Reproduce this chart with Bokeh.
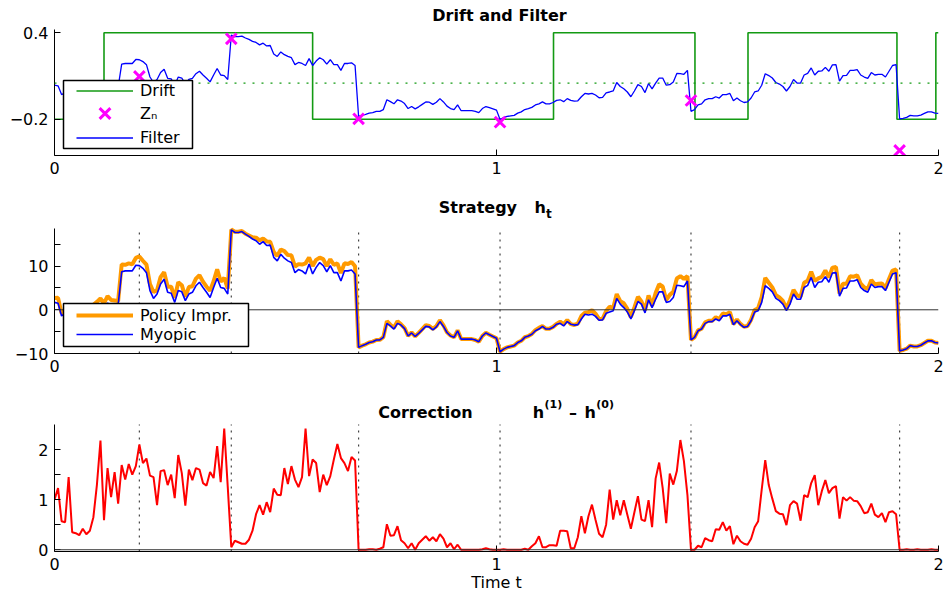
from bokeh.plotting import figure
from bokeh.layouts import column
from bokeh.models import Range1d, FixedTicker, Span, Legend, LegendItem, Label, BoxAnnotation
from bokeh.embed import file_html
from bokeh.resources import INLINE

# ---------------- data ----------------
DT = 0.008  # sampling step of the time grid

filter_est = [
    0.036, 0.032, -0.029, -0.017, -0.013, -0.019, -0.021, -0.013, -0.008, -0.013,
    -0.006, 0.011, 0.011, 0.008, 0.019, 0.032, 0.025, 0.013, 0.023, 0.183,
    0.187, 0.187, 0.187, 0.215, 0.213, 0.2, 0.179, 0.093, 0.055, 0.076,
    0.124, 0.147, 0.084, 0.08, 0.036, 0.093, 0.086, 0.044, 0.076, 0.084,
    0.116, 0.133, 0.107, 0.084, 0.059, 0.107, 0.152, 0.107, 0.103, 0.076,
    0.385, 0.373, 0.373, 0.377, 0.364, 0.354, 0.341, 0.333, 0.316, 0.328,
    0.309, 0.312, 0.253, 0.236, 0.267, 0.248, 0.236, 0.227, 0.179, 0.194,
    0.187, 0.173, 0.221, 0.173, 0.204, 0.227, 0.213, 0.183, 0.213, 0.179,
    0.179, 0.139, 0.187, 0.187, 0.192, 0.173, -0.181, -0.173, -0.166, -0.158,
    -0.154, -0.145, -0.145, -0.133, -0.065, -0.078, -0.093, -0.065, -0.074, -0.091,
    -0.126, -0.112, -0.128, -0.114, -0.097, -0.08, -0.082, -0.097, -0.082, -0.057,
    -0.08, -0.109, -0.126, -0.133, -0.101, -0.141, -0.141, -0.141, -0.141, -0.145,
    -0.154, -0.126, -0.112, -0.12, -0.128, -0.137, -0.202, -0.189, -0.181, -0.177,
    -0.173, -0.158, -0.149, -0.133, -0.126, -0.118, -0.101, -0.093, -0.08, -0.093,
    -0.093, -0.084, -0.069, -0.065, -0.078, -0.057, -0.069, -0.074, -0.072, -0.044,
    -0.021, -0.025, -0.021, -0.032, -0.051, -0.048, -0.017, -0.011, -0.004, 0.055,
    0.027, 0.011, -0.011, -0.044, -0.004, 0.04, 0.027, -0.015, 0.048, 0.011,
    0.051, 0.086, 0.086, 0.036, 0.04, 0.059, 0.118, 0.116, 0.112, 0.139,
    -0.145, -0.133, -0.101, -0.093, -0.065, -0.057, -0.057, -0.044, -0.053, -0.029,
    -0.029, -0.021, -0.072, -0.053, -0.072, -0.084, -0.08, -0.053, -0.011, -0.004,
    0.036, 0.116, 0.103, 0.086, 0.055, 0.044, 0.027, -0.004, 0.027, 0.076,
    0.051, 0.051, 0.107, 0.118, 0.156, 0.107, 0.133, 0.135, 0.16, 0.133,
    0.177, 0.179, 0.065, 0.103, 0.105, 0.139, 0.139, 0.145, 0.107, 0.093,
    0.084, 0.124, 0.107, 0.112, 0.112, 0.093, 0.133, 0.173, 0.179, -0.198,
    -0.194, -0.187, -0.173, -0.177, -0.177, -0.171, -0.16, -0.149, -0.149, -0.158, -0.16,
]

myopic = [
    1.7, 1.5, -1.4, -0.8, -0.6, -0.9, -1.0, -0.6, -0.4, -0.6,
    -0.3, 0.5, 0.5, 0.4, 0.9, 1.5, 1.2, 0.6, 1.1, 8.7,
    8.9, 8.9, 8.9, 10.2, 10.1, 9.5, 8.5, 4.4, 2.6, 3.6,
    5.9, 7.0, 4.0, 3.8, 1.7, 4.4, 4.1, 2.1, 3.6, 4.0,
    5.5, 6.3, 5.1, 4.0, 2.8, 5.1, 7.2, 5.1, 4.9, 3.6,
    18.3, 17.7, 17.7, 17.9, 17.3, 16.8, 16.2, 15.8, 15.0, 15.6,
    14.7, 14.8, 12.0, 11.2, 12.7, 11.8, 11.2, 10.8, 8.5, 9.2,
    8.9, 8.2, 10.5, 8.2, 9.7, 10.8, 10.1, 8.7, 10.1, 8.5,
    8.5, 6.6, 8.9, 8.9, 9.1, 8.2, -8.6, -8.2, -7.9, -7.5,
    -7.3, -6.9, -6.9, -6.3, -3.1, -3.7, -4.4, -3.1, -3.5, -4.3,
    -6.0, -5.3, -6.1, -5.4, -4.6, -3.8, -3.9, -4.6, -3.9, -2.7,
    -3.8, -5.2, -6.0, -6.3, -4.8, -6.7, -6.7, -6.7, -6.7, -6.9,
    -7.3, -6.0, -5.3, -5.7, -6.1, -6.5, -9.6, -9.0, -8.6, -8.4,
    -8.2, -7.5, -7.1, -6.3, -6.0, -5.6, -4.8, -4.4, -3.8, -4.4,
    -4.4, -4.0, -3.3, -3.1, -3.7, -2.7, -3.3, -3.5, -3.4, -2.1,
    -1.0, -1.2, -1.0, -1.5, -2.4, -2.3, -0.8, -0.5, -0.2, 2.6,
    1.3, 0.5, -0.5, -2.1, -0.2, 1.9, 1.3, -0.7, 2.3, 0.5,
    2.4, 4.1, 4.1, 1.7, 1.9, 2.8, 5.6, 5.5, 5.3, 6.6,
    -6.9, -6.3, -4.8, -4.4, -3.1, -2.7, -2.7, -2.1, -2.5, -1.4,
    -1.4, -1.0, -3.4, -2.5, -3.4, -4.0, -3.8, -2.5, -0.5, -0.2,
    1.7, 5.5, 4.9, 4.1, 2.6, 2.1, 1.3, -0.2, 1.3, 3.6,
    2.4, 2.4, 5.1, 5.6, 7.4, 5.1, 6.3, 6.4, 7.6, 6.3,
    8.4, 8.5, 3.1, 4.9, 5.0, 6.6, 6.6, 6.9, 5.1, 4.4,
    4.0, 5.9, 5.1, 5.3, 5.3, 4.4, 6.3, 8.2, 8.5, -9.4,
    -9.2, -8.9, -8.2, -8.4, -8.4, -8.1, -7.6, -7.1, -7.1, -7.5, -7.6,
]

policy = [
    2.7, 2.73, -0.83, -0.25, 0.85, -0.55, -0.67, -0.31, 0.02, -0.29,
    0.08, 1.15, 1.8, 2.58, 1.49, 3.13, 2.25, 2.15, 2.02, 10.39,
    10.3, 10.61, 10.4, 11.87, 12.2, 11.23, 10.32, 5.88, 4.05, 4.49,
    7.47, 8.59, 5.29, 5.3, 2.73, 6.29, 5.63, 2.98, 5.2, 5.39,
    7.13, 7.9, 6.43, 5.28, 4.35, 6.53, 9.27, 6.45, 7.32, 4.85,
    18.35, 17.88, 17.85, 18.02, 17.42, 17.0, 16.58, 16.51, 15.89, 16.3,
    15.65, 15.55, 13.22, 12.3, 13.79, 13.43, 12.51, 12.47, 9.9, 10.45,
    10.35, 10.62, 11.97, 10.0, 11.43, 11.95, 11.6, 9.99, 11.57, 10.3,
    10.61, 8.43, 10.63, 10.47, 10.95, 9.98, -8.6, -8.2, -7.9, -7.49,
    -7.29, -6.9, -6.88, -6.25, -2.59, -3.42, -4.11, -2.63, -3.31, -4.17,
    -5.97, -5.17, -6.1, -5.27, -4.4, -3.53, -3.72, -4.35, -3.73, -2.39,
    -3.58, -5.15, -5.87, -6.29, -4.7, -6.7, -6.7, -6.7, -6.7, -6.9,
    -7.3, -5.99, -5.27, -5.69, -6.1, -6.5, -9.6, -8.99, -8.6, -8.4,
    -8.2, -7.5, -7.1, -6.28, -6.0, -5.53, -4.67, -4.13, -3.75, -4.35,
    -4.31, -3.91, -3.22, -2.72, -3.32, -2.33, -3.27, -3.47, -3.15, -1.43,
    -0.67, -0.53, -0.1, -0.9, -2.08, -2.05, -0.3, 0.7, 0.4, 3.59,
    1.99, 1.49, 0.2, -1.68, 0.55, 2.97, 1.9, -0.13, 3.29, 0.95,
    3.82, 5.84, 5.33, 2.23, 3.42, 4.1, 7.17, 7.69, 7.07, 7.69,
    -6.9, -6.3, -4.72, -4.35, -2.87, -2.51, -2.53, -1.69, -2.1, -0.85,
    -1.02, -0.53, -3.29, -2.22, -3.23, -3.88, -3.7, -2.28, -0.05, 0.37,
    2.9, 7.29, 6.19, 5.12, 3.37, 2.82, 2.01, 0.29, 2.19, 4.57,
    3.32, 2.98, 6.19, 6.65, 8.73, 6.59, 7.19, 7.57, 8.99, 7.43,
    9.63, 9.77, 3.72, 5.95, 5.98, 7.65, 7.58, 7.87, 5.97, 5.13,
    4.75, 6.82, 5.8, 5.95, 6.03, 4.95, 7.05, 8.97, 9.21, -9.4,
    -9.2, -8.89, -8.2, -8.4, -8.39, -8.1, -7.6, -7.1, -7.09, -7.5, -7.6,
]

correction = [
    1.0, 1.23, 0.57, 0.55, 1.45, 0.35, 0.33, 0.29, 0.42, 0.31,
    0.38, 0.65, 1.3, 2.18, 0.59, 1.63, 1.05, 1.55, 0.92, 1.69,
    1.4, 1.71, 1.5, 1.67, 2.1, 1.73, 1.82, 1.48, 1.45, 0.89,
    1.57, 1.59, 1.29, 1.5, 1.03, 1.89, 1.53, 0.88, 1.6, 1.39,
    1.63, 1.6, 1.33, 1.28, 1.55, 1.43, 2.07, 1.35, 2.42, 1.25,
    0.05, 0.18, 0.15, 0.12, 0.12, 0.2, 0.38, 0.71, 0.89, 0.7,
    0.95, 0.75, 1.22, 1.1, 1.09, 1.63, 1.31, 1.67, 1.4, 1.25,
    1.45, 2.42, 1.47, 1.8, 1.73, 1.15, 1.5, 1.29, 1.47, 1.8,
    2.11, 1.83, 1.73, 1.57, 1.85, 1.78, 0.0, 0.0, 0.0, 0.01,
    0.01, 0.0, 0.02, 0.05, 0.51, 0.28, 0.29, 0.47, 0.19, 0.13,
    0.03, 0.13, 0.0, 0.13, 0.2, 0.27, 0.18, 0.25, 0.17, 0.31,
    0.22, 0.05, 0.13, 0.01, 0.1, 0.0, 0.0, 0.0, 0.0, 0.0,
    0.0, 0.01, 0.03, 0.01, 0.0, 0.0, 0.0, 0.01, 0.0, 0.0,
    0.0, 0.0, 0.0, 0.02, 0.0, 0.07, 0.13, 0.27, 0.05, 0.05,
    0.09, 0.09, 0.08, 0.38, 0.38, 0.37, 0.03, 0.03, 0.25, 0.67,
    0.33, 0.67, 0.9, 0.6, 0.32, 0.25, 0.5, 1.2, 0.6, 0.99,
    0.69, 0.99, 0.7, 0.42, 0.75, 1.07, 0.6, 0.57, 0.99, 0.45,
    1.42, 1.74, 1.23, 0.53, 1.52, 1.3, 1.57, 2.19, 1.77, 1.09,
    0.0, 0.0, 0.08, 0.05, 0.23, 0.19, 0.17, 0.41, 0.4, 0.55,
    0.38, 0.47, 0.11, 0.28, 0.17, 0.12, 0.1, 0.22, 0.45, 0.57,
    1.2, 1.79, 1.29, 1.02, 0.77, 0.72, 0.71, 0.49, 0.89, 0.97,
    0.92, 0.58, 1.09, 1.05, 1.33, 1.49, 0.89, 1.17, 1.39, 1.13,
    1.23, 1.27, 0.62, 1.05, 0.98, 1.05, 0.98, 0.97, 0.87, 0.73,
    0.75, 0.92, 0.7, 0.65, 0.73, 0.55, 0.75, 0.77, 0.71, 0.0,
    0.0, 0.01, 0.0, 0.0, 0.01, 0.0, 0.0, 0.0, 0.01, 0.0, 0.0,
]

t = [round(i * DT, 3) for i in range(len(correction))]

obs_t = [0.192, 0.4, 0.688, 1.008, 1.44, 1.912]
obs_z = [0.097, 0.358, -0.197, -0.221, -0.07, -0.417]

drift_t = [0.0, 0.112, 0.584, 1.129, 1.449, 1.569, 1.906, 1.994, 2.0]
drift_v = [-0.2, 0.4, -0.2, 0.4, -0.2, 0.4, -0.2, 0.4, 0.4]
drift_mean = 0.05

x_ticks = [0, 1, 2]
y1_ticks = [-0.2, 0.4]
y2_ticks = [-10, -5, 0, 5, 10, 15]
y3_ticks = [0, 0.5, 1, 1.5, 2]
y1_lim = (-0.452, 0.423)
y2_lim = (-10.0, 18.6)
y3_lim = (-0.035, 2.5)

# ---------------- styling ----------------
FONT = "DejaVu Sans"
GREEN = "#139a13"
BLUE = "#0000ff"
MAGENTA = "#ff00ff"
ORANGE = "#ff9a00"
RED = "#ff0000"
W = 944


def make_fig(h, bottom, data_h, lim, yticks, overrides):
    """Frame reaches the top of the canvas; the data area is the lower data_h px."""
    frame_h = h - bottom
    lo, hi = lim
    hi_ext = lo + (hi - lo) * frame_h / data_h
    p = figure(width=W, height=h, x_range=Range1d(0, 2), y_range=Range1d(lo, hi_ext),
               output_backend="svg", toolbar_location=None, title=None,
               min_border_left=54, min_border_right=6,
               min_border_top=0, min_border_bottom=bottom)
    p.outline_line_color = None
    p.background_fill_color = "white"
    p.border_fill_color = "white"
    p.xgrid.visible = False
    p.ygrid.visible = False
    for ax in (p.xaxis[0], p.yaxis[0]):
        ax.axis_line_color = "black"
        ax.axis_line_width = 1
        ax.major_tick_in = 6
        ax.major_tick_out = 0
        ax.major_tick_line_color = "black"
        ax.minor_tick_line_color = None
        ax.major_label_text_font = FONT
        ax.major_label_text_font_size = "16px"
        ax.major_label_text_color = "black"
        ax.major_label_standoff = 6
    p.xaxis[0].ticker = FixedTicker(ticks=x_ticks)
    p.yaxis[0].ticker = FixedTicker(ticks=yticks)
    p.yaxis[0].bounds = (lo, hi)
    p.yaxis[0].major_label_overrides = overrides
    return p


def add_text(p, x, y, text, size, bold=True, align="left"):
    p.add_layout(Label(x=x, y=y, x_units="screen", y_units="screen", text=text,
                       text_font=FONT, text_font_size=f"{size}px",
                       text_font_style="bold" if bold else "normal",
                       text_align=align, text_baseline="alphabetic",
                       text_color="black"))


def legend_box(p, left, right, bottom, top):
    p.add_layout(BoxAnnotation(left=left, right=right, bottom=bottom, top=top,
                               left_units="screen", right_units="screen",
                               bottom_units="screen", top_units="screen",
                               fill_color="white", fill_alpha=1.0,
                               line_color="black", line_width=1.5, line_alpha=1.0))


def legend_rows(p, items, x, y, gh):
    leg = Legend(items=items, location=(x, y))
    leg.border_line_color = None
    leg.background_fill_alpha = 0.0
    leg.label_text_font = FONT
    leg.label_text_font_size = "16px"
    leg.label_text_color = "black"
    leg.glyph_width = 57
    leg.glyph_height = gh
    leg.label_height = gh
    leg.label_standoff = 7
    leg.spacing = 0
    leg.padding = 0
    leg.margin = 0
    p.add_layout(leg)


def obs_lines(p, lim):
    n = len(obs_t)
    p.segment(x0=obs_t, y0=[lim[0]] * n, x1=obs_t, y1=[lim[1]] * n,
              line_color="#444444", line_dash="2 5", line_width=1.2)


# ---------------- panel 1: Drift and Filter ----------------
p1 = make_fig(190, 35, 126, y1_lim, y1_ticks, {-0.2: "\u22120.2", 0.4: "0.4"})
p1.add_layout(Span(location=drift_mean, dimension="width", line_color=GREEN,
                   line_dash="2 7", line_width=1.3))
r_drift = p1.step(drift_t, drift_v, mode="after", line_color=GREEN, line_width=1.6)
r_filt = p1.line(t, filter_est, line_color=BLUE, line_width=1.3)
r_z = p1.scatter(obs_t, obs_z, marker="x", size=15, line_width=3, line_color=MAGENTA)
legend_box(p1, 9, 138, 7, 75)
legend_rows(p1, [LegendItem(label="Drift", renderers=[r_drift])], 22, 55.5, 19)
legend_rows(p1, [LegendItem(label="Z\u2099", renderers=[r_z])], 22, 23, 38)
legend_rows(p1, [LegendItem(label="Filter", renderers=[r_filt])], 22, 8.5, 19)
add_text(p1, 445, 140, "Drift and Filter", 16, align="center")

# ---------------- panel 2: Strategy ----------------
p2 = make_fig(200, 37, 125, y2_lim, y2_ticks,
              {-10: "\u221210", -5: "", 0: "0", 5: "", 10: "10", 15: ""})
obs_lines(p2, y2_lim)
p2.add_layout(Span(location=0, dimension="width", line_color="#333333", line_width=1))
r_pol = p2.line(t, policy, line_color=ORANGE, line_width=4)
r_myo = p2.line(t, myopic, line_color=BLUE, line_width=1.6)
legend_box(p2, 9, 194, 7, 50)
legend_rows(p2, [LegendItem(label="Policy Impr.", renderers=[r_pol]),
                 LegendItem(label="Myopic", renderers=[r_myo])], 22, 9.5, 18)
add_text(p2, 384.3, 146.3, "Strategy", 16)
add_text(p2, 480, 146.3, "h", 16)
add_text(p2, 491.5, 139.7, "t", 12)

# ---------------- panel 3: Correction ----------------
p3 = make_fig(204, 43, 127, y3_lim, y3_ticks, {0: "0", 0.5: "", 1: "1", 1.5: "", 2: "2"})
obs_lines(p3, y3_lim)
p3.add_layout(Span(location=0, dimension="width", line_color="#333333", line_width=1))
p3.line(t, correction, line_color=RED, line_width=2)
add_text(p3, 323.7, 139.3, "Correction", 16)
add_text(p3, 478.3, 139.3, "h", 16)
add_text(p3, 490, 147, "(1)", 11)
add_text(p3, 514.5, 139.3, "\u2013", 16)
add_text(p3, 530, 139.3, "h", 16)
add_text(p3, 541.7, 147, "(0)", 11)
p3.xaxis[0].axis_label = "Time t"
p3.xaxis[0].axis_label_text_font = FONT
p3.xaxis[0].axis_label_text_font_size = "16px"
p3.xaxis[0].axis_label_text_font_style = "normal"
p3.xaxis[0].axis_label_text_color = "black"
p3.xaxis[0].axis_label_standoff = 0

layout = column(p1, p2, p3)
open("out.html", "w").write(file_html(layout, INLINE))
